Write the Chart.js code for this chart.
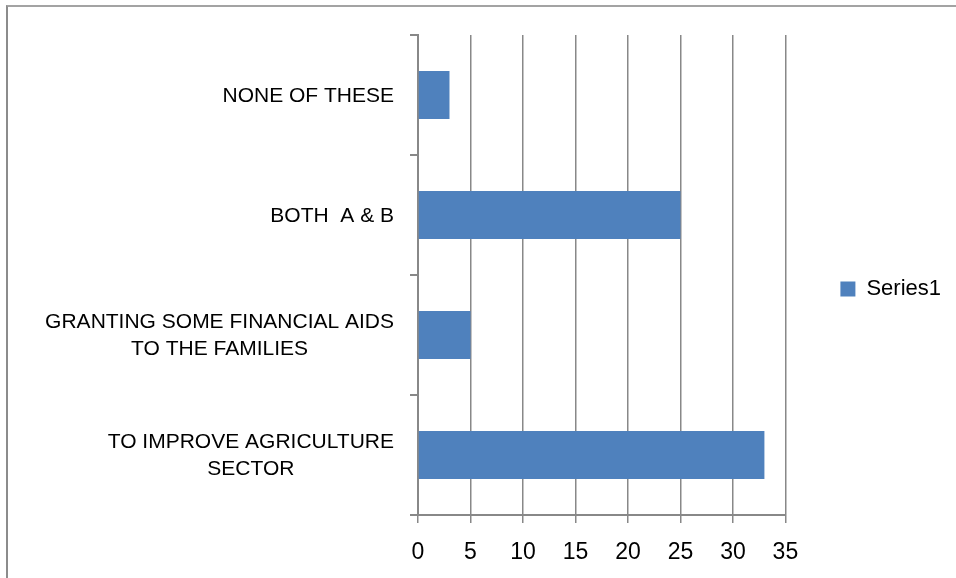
<!DOCTYPE html>
<html>
<head>
<meta charset="utf-8">
<script src="https://cdn.jsdelivr.net/npm/chart.js@4"></script>
<style>
  html, body { margin: 0; padding: 0; background: #fff; }
  #frame { position: absolute; left: 6px; top: 5px; width: 1000px; height: 700px;
           border-top: 2px solid #a3a3a3; border-left: 2px solid #8c8c8c; }
  #box { position: absolute; left: 0; top: 0; width: 956px; height: 578px; }
</style>
</head>
<body>
<div id="frame"></div>
<div id="box"><canvas id="myChart"></canvas></div>
<script>
// chart data
var categories = [
  "NONE OF THESE",
  "BOTH  A & B",
  ["GRANTING SOME FINANCIAL AIDS", "TO THE FAMILIES"],
  ["TO IMPROVE AGRICULTURE", "SECTOR"]
];
var series1 = [3, 25, 5, 33];
var xTicks = [0, 5, 10, 15, 20, 25, 30, 35];

var barColor = "#4F81BD";
var gridColor = "#888888";
Chart.defaults.color = "#000";
Chart.defaults.font.family = "'Liberation Sans', Arial, sans-serif";

// category labels: lines centred on each other, block right aligned
var yLabels = {
  id: "yLabels",
  afterDraw: function(chart) {
    var ctx = chart.ctx, ys = chart.scales.y;
    ctx.save();
    ctx.font = "21px 'Liberation Sans', Arial, sans-serif";
    ctx.fillStyle = "#000";
    ctx.textAlign = "center";
    ctx.textBaseline = "middle";
    chart.data.labels.forEach(function(lab, i) {
      var lines = [].concat(lab);
      var w = Math.max.apply(null, lines.map(function(t) { return ctx.measureText(t).width; }));
      var cx = ys.right - 24 - w / 2;
      var cy = ys.getPixelForValue(i) + 1;
      lines.forEach(function(t, j) {
        ctx.fillText(t, cx, cy + (j - (lines.length - 1) / 2) * 27);
      });
    });
    ctx.restore();
  }
};

var ctx = document.getElementById("myChart");
var myChart = new Chart(ctx, {
  type: "bar",
  data: {
    labels: categories,
    datasets: [{
      label: "Series1",
      data: series1,
      backgroundColor: barColor,
      borderWidth: 0,
      categoryPercentage: 1.0,
      barPercentage: 0.4
    }]
  },
  options: {
    indexAxis: "y",
    responsive: true,
    maintainAspectRatio: false,
    animation: false,
    layout: { padding: { left: 0, top: 0, bottom: 0, right: 5 } },
    scales: {
      x: {
        min: 0,
        max: 35,
        afterBuildTicks: function(scale) {
          scale.ticks = xTicks.map(function(v) { return { value: v }; });
        },
        afterFit: function(scale) { scale.height = 63; },
        grid: { color: gridColor, lineWidth: 1.5, tickLength: 8, drawTicks: true },
        border: { color: gridColor, width: 2 },
        ticks: { font: { size: 23 }, padding: 16, color: "#000", maxRotation: 0 }
      },
      y: {
        afterFit: function(scale) { scale.width = 418; },
        grid: { drawOnChartArea: false, color: gridColor, lineWidth: 2, tickLength: 8 },
        border: { color: gridColor, width: 2 },
        ticks: { display: false }
      }
    },
    plugins: {
      title: { display: true, text: " ", padding: 0, font: { size: 35, lineHeight: 1 } },
      tooltip: { enabled: false },
      legend: {
        position: "right",
        labels: { boxWidth: 15, boxHeight: 15, padding: 55, font: { size: 22 }, color: "#000" }
      }
    }
  },
  plugins: [yLabels]
});
</script>
</body>
</html>
